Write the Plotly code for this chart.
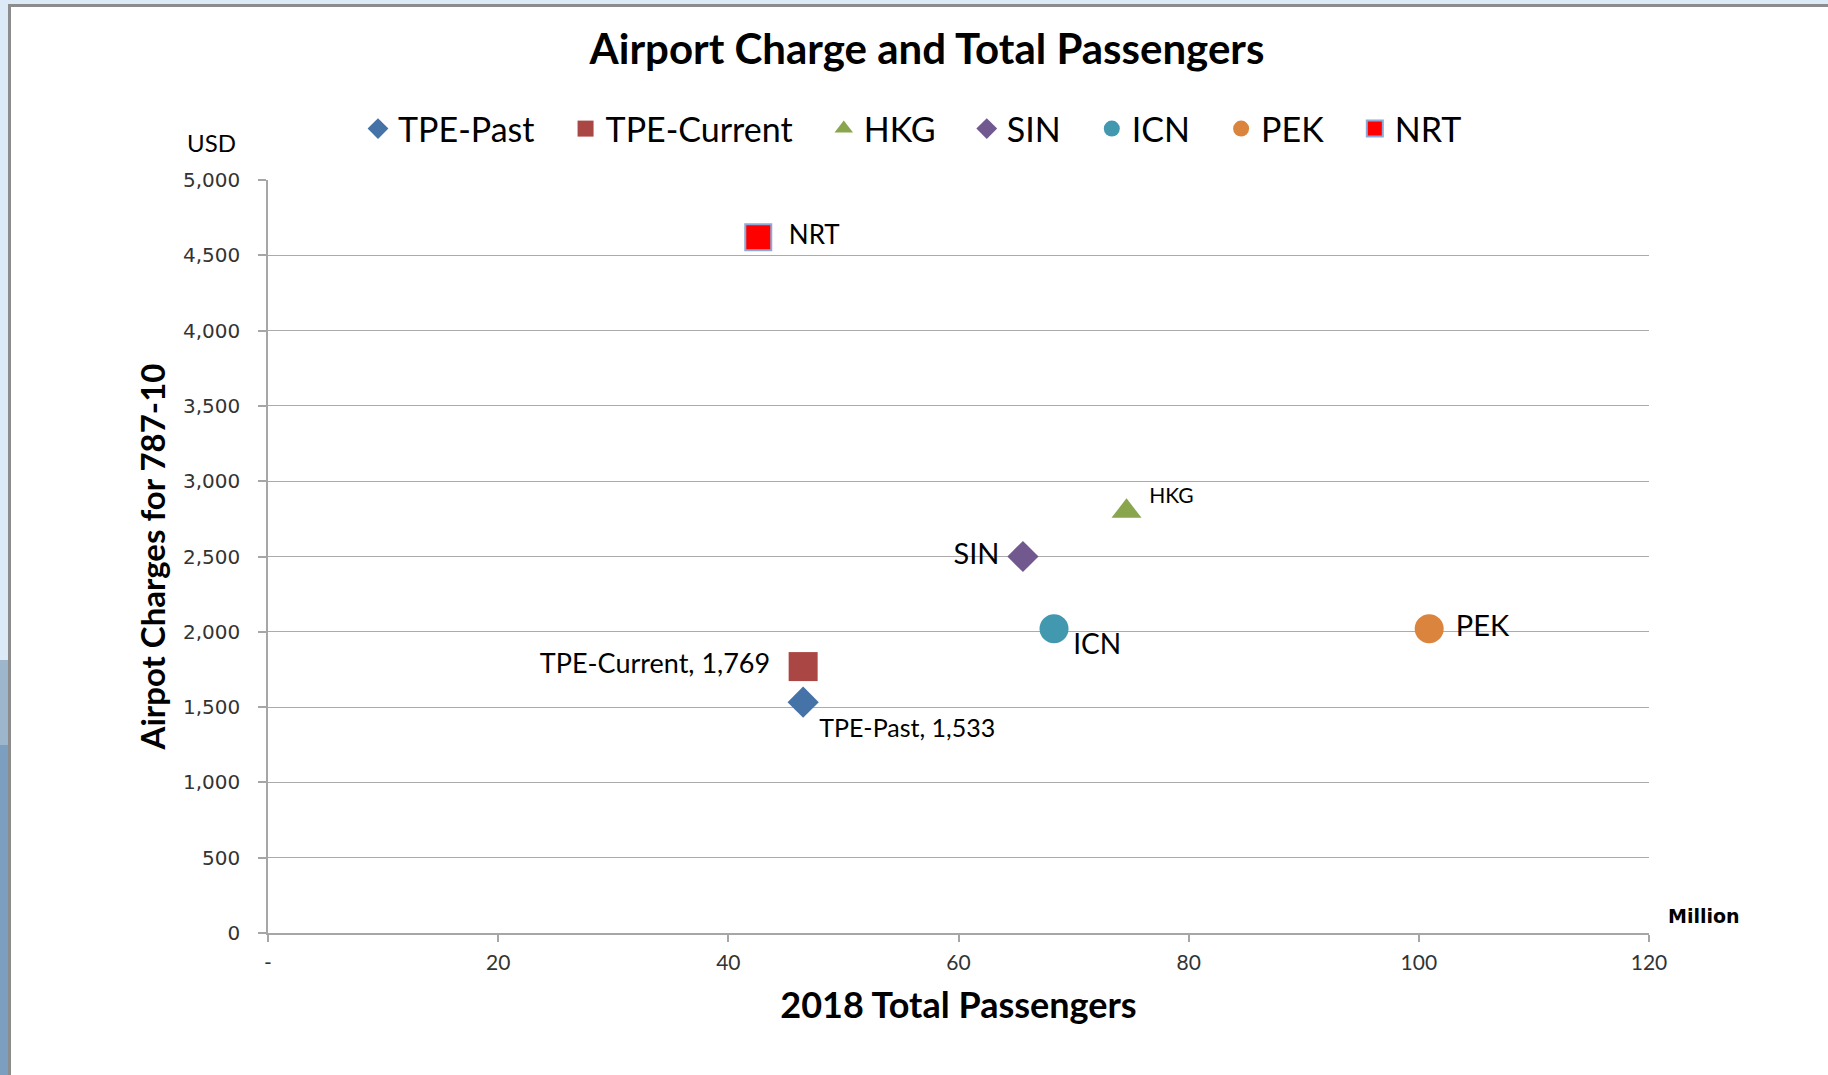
import plotly.graph_objects as go

# ---- data ----
airports = ["TPE-Past", "TPE-Current", "HKG", "SIN", "ICN", "PEK", "NRT"]
passengers_million = [46.5, 46.5, 74.6, 65.6, 68.3, 100.9, 42.6]
charges_usd = [1533, 1769, 2800, 2500, 2020, 2020, 4620]
show_value_in_label = [True, True, False, False, False, False, False]

x_tickvals = [0, 20, 40, 60, 80, 100, 120]
x_ticktext = ["-", "20", "40", "60", "80", "100", "120"]
y_tickvals = [0, 500, 1000, 1500, 2000, 2500, 3000, 3500, 4000, 4500, 5000]

# ---- styles ----
styles = {
    "TPE-Past":    dict(color="#4572A7", symbol="diamond", size=24, pos="bottom right", fs=25, line="#4572A7", pad=("", " ")),
    "TPE-Current": dict(color="#AA4643", symbol="square", size=29, pos="middle left", fs=27, line="#AA4643", pad=("", "  ")),
    "HKG":         dict(color="#89A54E", symbol="triangle-up", size=26, pos="middle right", fs=21, line="#89A54E", pad=(" ", "<br> ")),
    "SIN":         dict(color="#71588F", symbol="diamond", size=24, pos="middle left", fs=29, line="#71588F", pad=("", " ")),
    "ICN":         dict(color="#4198AF", symbol="circle", size=29, pos="middle right", fs=28, line="#4198AF", pad=("<br>", "")),
    "PEK":         dict(color="#DB843D", symbol="circle", size=29, pos="middle right", fs=29, line="#DB843D", pad=(" ", "")),
    "NRT":         dict(color="#FF0000", symbol="square", size=26, pos="middle right", fs=26, line="#8EA9D6", pad=("  ", "")),
}

FONT = "Lato, 'Open Sans', sans-serif"
LEGEND_GAP = "\u00a0" * 3

fig = go.Figure()
for name, xv, yv, withval in zip(airports, passengers_million, charges_usd, show_value_in_label):
    st = styles[name]
    label = f"{name}, {yv:,}" if withval else name
    pre, post = st["pad"]
    fig.add_trace(go.Scatter(
        x=[xv], y=[yv], name=name + LEGEND_GAP, mode="markers+text",
        text=[pre + label + post], textposition=st["pos"],
        textfont=dict(family=FONT, size=st["fs"], color="#000000"),
        marker=dict(color=st["color"], symbol=st["symbol"], size=st["size"],
                    line=dict(color=st["line"], width=2 if name == "NRT" else 0)),
        cliponaxis=False,
    ))

# plot area pixel geometry
W, H = 1828, 1075
L, R, T, B = 268, 1649, 180, 933


def px(X):
    return (X - L) / (R - L)


def py(Y):
    return (B - Y) / (B - T)


shapes = [
    dict(type="rect", xref="paper", yref="paper", x0=px(0), x1=px(W), y0=py(0), y1=py(4),
         fillcolor="#DCEAF8", line=dict(width=0), layer="below"),
    dict(type="rect", xref="paper", yref="paper", x0=px(0), x1=px(8), y0=py(0), y1=py(660),
         fillcolor="#DCEAF8", line=dict(width=0), layer="below"),
    dict(type="rect", xref="paper", yref="paper", x0=px(0), x1=px(8), y0=py(660), y1=py(745),
         fillcolor="#9DB6CB", line=dict(width=0), layer="below"),
    dict(type="rect", xref="paper", yref="paper", x0=px(0), x1=px(8), y0=py(745), y1=py(H),
         fillcolor="#7C9FC0", line=dict(width=0), layer="below"),
    dict(type="rect", xref="paper", yref="paper", x0=px(8), x1=px(W), y0=py(4), y1=py(7),
         fillcolor="#8C8C8C", line=dict(width=0), layer="below"),
    dict(type="rect", xref="paper", yref="paper", x0=px(8), x1=px(11), y0=py(4), y1=py(H),
         fillcolor="#8C8C8C", line=dict(width=0), layer="below"),
]

fig.update_layout(
    width=W, height=H,
    margin=dict(l=L, r=W - R, t=T, b=H - B, autoexpand=False),
    paper_bgcolor="#FFFFFF", plot_bgcolor="#FFFFFF",
    title=dict(text="<b>Airport Charge and Total Passengers</b>", x=927 / W, xanchor="center",
               y=1 - 49 / H, yanchor="middle", font=dict(family=FONT, size=42, color="#000000")),
    legend=dict(orientation="h", x=px(925), xanchor="center", y=py(129), yanchor="middle",
                font=dict(family=FONT, size=34, color="#000000"), bgcolor="rgba(0,0,0,0)",
                itemclick=False),
    showlegend=True,
    shapes=shapes,
    annotations=[
        dict(text="USD", xref="paper", yref="paper", x=px(211), y=py(142), showarrow=False,
             xanchor="center", yanchor="middle", font=dict(family=FONT, size=24, color="#000000")),
        dict(text="<b>Million</b>", xref="paper", yref="paper", x=px(1704), y=py(916), showarrow=False,
             xanchor="center", yanchor="middle", font=dict(family="DejaVu Sans", size=19, color="#000000")),
    ],
)

fig.update_xaxes(
    range=[0, 120], tickvals=x_tickvals, ticktext=x_ticktext,
    showgrid=False, zeroline=False, showline=True, linecolor="#A6A6A6", linewidth=1.5,
    ticks="outside", ticklen=7, tickcolor="#A6A6A6", tickwidth=1.5, ticklabelstandoff=3,
    tickfont=dict(family=FONT, size=21, color="#333333"),
    title=dict(text="<b>2018 Total Passengers</b>", standoff=20,
               font=dict(family=FONT, size=36, color="#000000")),
    automargin=False,
)
fig.update_yaxes(
    range=[0, 5000], tickvals=y_tickvals, tickformat=",",
    showgrid=True, gridcolor="#ABABAB", gridwidth=1.2, zeroline=False,
    showline=True, linecolor="#A6A6A6", linewidth=1.5,
    ticks="outside", ticklen=8, tickcolor="#A6A6A6", tickwidth=1.5, ticklabelstandoff=14,
    tickfont=dict(family="DejaVu Sans", size=20, color="#333333"),
    title=dict(text="<b>Airpot Charges for 787-10</b>", standoff=7,
               font=dict(family=FONT, size=33, color="#000000")),
    automargin=False,
)

fig.write_html("out.html", config={"displayModeBar": False},
               post_script="document.body.style.margin='0';document.body.style.overflow='hidden';")
